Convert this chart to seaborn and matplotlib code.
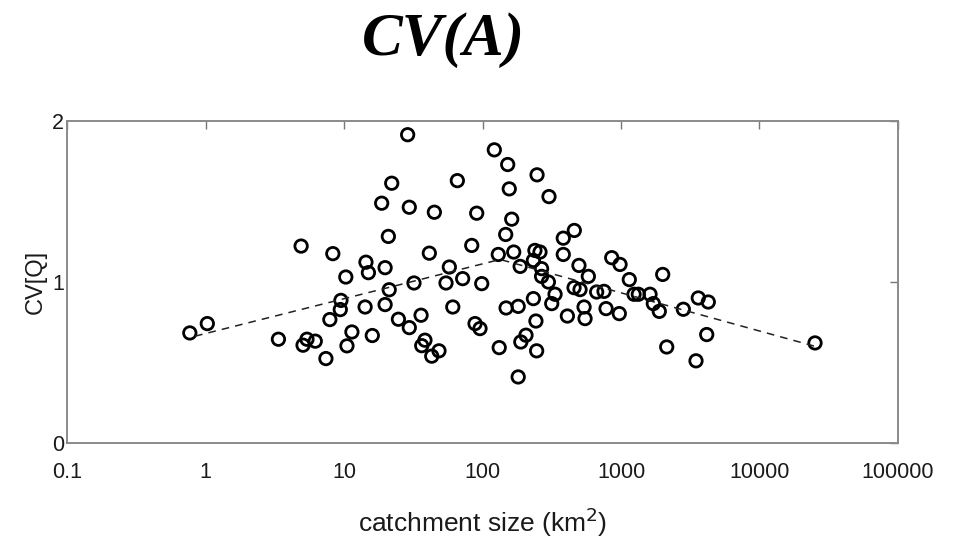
import numpy as np
import pandas as pd
import matplotlib
matplotlib.use('Agg')
import matplotlib.pyplot as plt
import seaborn as sns

# catchment area (km2) and CV[Q]
area = [0.77, 1.03, 3.36, 4.9, 8.3, 10.3, 9.5, 9.4, 7.9, 5.06,
        5.4, 6.2, 11.4, 10.5, 7.4, 14.4, 15.0, 14.2, 16.0, 28.8,
        121.7, 22.1, 65.8, 18.7, 29.6, 44.9, 90.8, 20.9, 83.6, 41.3,
        130, 19.8, 57.6, 32, 54.5, 71.9, 98.7, 21.2, 19.8, 61,
        24.7, 36, 29.6, 88.3, 95.9, 38.4, 36.4, 43, 48.5, 132,
        152, 247.6, 156, 302, 162.5, 147, 460, 383, 168, 239,
        260, 383, 233, 187, 267, 267, 299, 497, 581, 857,
        984, 458, 506, 667, 754, 1148, 1242, 334, 316, 233,
        148, 181, 410, 541, 550, 780, 972, 243, 206, 189,
        246, 181, 2000, 1334, 1620, 1712, 1890, 2818, 3614, 4268,
        4158, 2138, 3480, 25170]
cvq = [0.683, 0.741, 0.644, 1.222, 1.175, 1.03, 0.885, 0.828, 0.766, 0.607,
       0.644, 0.632, 0.689, 0.603, 0.524, 1.122, 1.057, 0.844, 0.667, 1.913,
       1.819, 1.612, 1.628, 1.488, 1.463, 1.432, 1.426, 1.282, 1.226, 1.178,
       1.17, 1.088, 1.092, 0.993, 0.993, 1.02, 0.989, 0.951, 0.859, 0.844,
       0.768, 0.793, 0.716, 0.741, 0.71, 0.638, 0.604, 0.539, 0.572, 0.592,
       1.728, 1.664, 1.577, 1.529, 1.389, 1.294, 1.319, 1.271, 1.185, 1.195,
       1.185, 1.17, 1.133, 1.096, 1.082, 1.034, 0.999, 1.102, 1.034, 1.15,
       1.108, 0.964, 0.952, 0.937, 0.941, 1.014, 0.923, 0.923, 0.865, 0.896,
       0.838, 0.848, 0.788, 0.844, 0.772, 0.834, 0.803, 0.757, 0.669, 0.627,
       0.572, 0.41, 1.046, 0.923, 0.923, 0.865, 0.817, 0.83, 0.9, 0.875,
       0.673, 0.596, 0.51, 0.621]

# dashed trend line
trend_area = [0.84, 134, 25170]
trend_cv = [0.663, 1.139, 0.60]

xticks = [0.1, 1, 10, 100, 1000, 10000, 100000]
xticklabels = ['0.1', '1', '10', '100', '1000', '10000', '100000']
yticks = [0, 1, 2]

df = pd.DataFrame({'area': area, 'cvq': cvq})
trend = pd.DataFrame({'area': trend_area, 'cvq': trend_cv})

sns.set_style('white')
plt.rcParams['font.family'] = ['Liberation Sans', 'DejaVu Sans']

fig = plt.figure(figsize=(9.55, 5.4), dpi=100)
ax = fig.add_axes([0.0702, 0.1796, 0.8701, 0.5969])

sns.lineplot(x='area', y='cvq', data=trend, ax=ax, color='#222222',
             linestyle=(0, (5, 4)), linewidth=1.1)
sns.scatterplot(x='area', y='cvq', data=df, ax=ax, marker='o', s=80,
                facecolor='none', edgecolor='black', linewidth=2.0)

ax.set_xscale('log')
ax.set_xlim(0.1, 100000)
ax.set_ylim(0, 2)
ax.set_xticks(xticks)
ax.set_xticklabels(xticklabels)
ax.minorticks_off()
ax.set_yticks(yticks)

for s in ax.spines.values():
    s.set_color('#8a8a8a')
    s.set_linewidth(1.4)
ax.tick_params(direction='in', length=6, width=1.0, color='#777777',
               top=True, right=True, labelsize=15.5, labelcolor='#1a1a1a')
ax.tick_params(axis='x', pad=14)
ax.tick_params(axis='y', pad=2)

ax.set_xlabel('catchment size (km$^2$)', fontsize=19, color='#1a1a1a', labelpad=16)
ax.set_ylabel('CV[Q]', fontsize=17, color='#1a1a1a', labelpad=4)

fig.text(0.464, 0.925, 'CV(A)', ha='center', va='center', fontsize=44,
         fontweight='bold', fontstyle='italic', family='Liberation Serif',
         color='black')

fig.savefig('out.png', dpi=100)
